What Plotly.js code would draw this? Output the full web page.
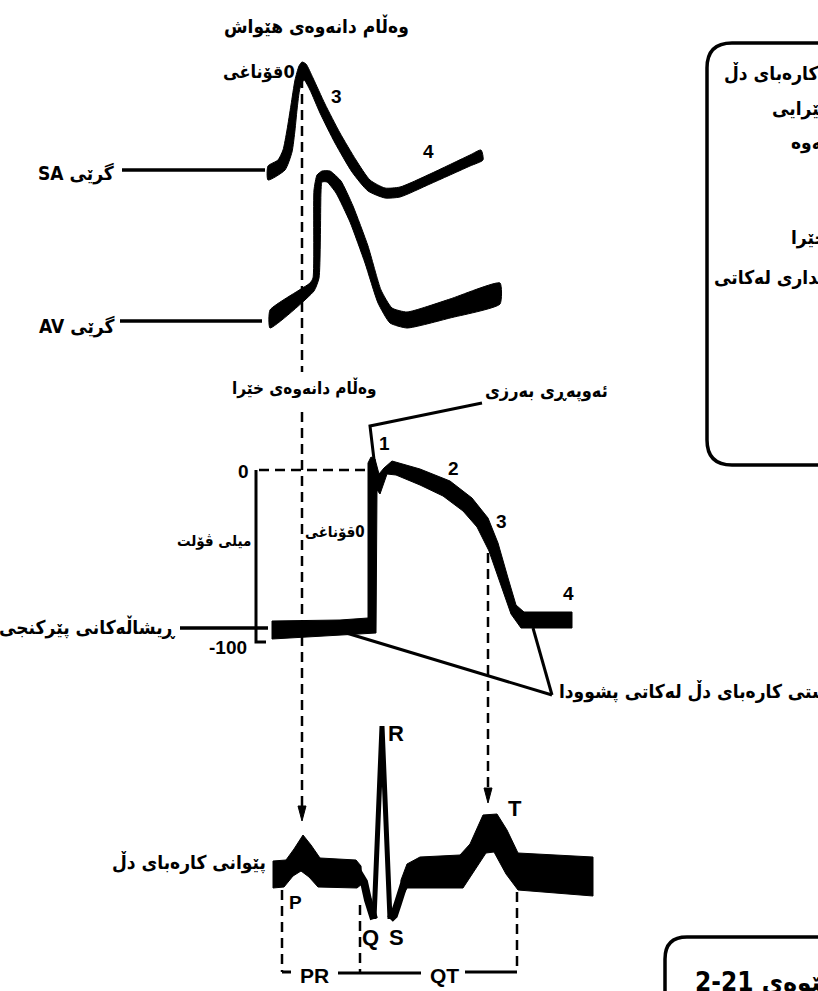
<!DOCTYPE html>
<html>
<head>
<meta charset="utf-8">
<script src="https://cdn.plot.ly/plotly-3.0.1.min.js"></script>
<style>
  html, body { margin: 0; padding: 0; background: #fff; }
  #chart { width: 818px; height: 991px; }
</style>
</head>
<body>
<div id="chart"></div>
<script>
// ── Waveform outlines (page pixels, y downwards) ────────────────────────────
// SA node: slow-response action potential
const saTopX = [268, 278, 283, 287, 291, 295, 299, 302, 306, 313, 325, 340, 356, 370, 385, 400, 430, 470, 481];
const saTopY = [166, 160, 150, 130, 105, 80, 66, 62, 64, 78, 104, 133, 160, 180, 188, 187, 174, 155, 150];
const saBotX = [483, 470, 430, 400, 385, 368, 352, 335, 320, 310, 304, 300, 297, 295, 292, 285, 268];
const saBotY = [160, 166, 184, 197, 198, 191, 172, 143, 113, 90, 80, 88, 110, 130, 152, 170, 180];

// AV node
const avTopX = [270, 310, 313, 314, 317, 322, 330, 341, 353, 368, 381, 392, 407, 450, 500];
const avTopY = [310, 283, 278, 190, 175, 171, 171, 181, 206, 246, 290, 308, 312, 299, 283];
const avBotX = [500, 450, 407, 390, 378, 365, 350, 336, 327, 322, 321, 319, 314, 270];
const avBotY = [304, 318, 328, 323, 303, 263, 222, 193, 182, 182, 192, 278, 291, 328];

// Purkinje fibre: fast-response action potential
const pkTopX = [272, 340, 368, 368, 371, 375, 379, 384, 392, 420, 450, 472, 488, 498, 508, 516, 524, 572];
const pkTopY = [621, 620, 618, 463, 457, 459, 474, 468, 461, 469, 481, 498, 518, 543, 578, 605, 612, 612];
const pkBotX = [572, 521, 511, 500, 489, 477, 463, 443, 420, 396, 387, 380, 377, 376, 340, 272];
const pkBotY = [628, 628, 614, 582, 551, 527, 511, 496, 485, 475, 474, 494, 490, 633, 635, 639];

// ECG: baseline band with P (left) and T (right), QRS as strokes
const ecgLTopX = [273, 286, 294, 303, 311, 320, 356, 361];
const ecgLTopY = [861, 860, 849, 835, 845, 858, 860, 866];
const ecgLBotX = [362, 357, 318, 309, 301, 293, 284, 273];
const ecgLBotY = [884, 888, 887, 877, 871, 876, 887, 888];
const ecgRTopX = [401, 407, 420, 460, 470, 483, 497, 507, 518, 593];
const ecgRTopY = [880, 864, 857, 855, 844, 815, 814, 830, 853, 857];
const ecgRBotX = [593, 518, 506, 494, 486, 475, 463, 407, 399];
const ecgRBotY = [896, 890, 874, 852, 853, 870, 888, 888, 903];
const qX = [358, 364, 368, 371, 374];
const qY = [872, 882, 900, 912, 919];
const rX = [374, 382, 390];
const rY = [919, 726, 919];
const sX = [390, 394, 398, 404];
const sY = [919, 915, 903, 884];

// ── Texts ───────────────────────────────────────────────────────────────────
const T_SLOW  = 'وەڵام دانەوەی هێواش';
const T_FAST  = 'وەڵام دانەوەی خێرا';
const T_PH0   = 'قۆناغی\u200E0';
const T_SA    = 'SA گرێی';
const T_AV    = 'AV گرێی';
const T_PEAK  = 'ئەوپەڕی بەرزی';
const T_MV    = 'میلی ڤۆلت';
const T_PURK  = 'ڕیشاڵەکانی پێرکنجی';
const T_REST  = 'ئاستی کارەبای دڵ لەکاتی پشوودا';
const T_ECG   = 'پێوانی کارەبای دڵ';
const T_FIG   = '2-21 شێوەی';
const BOX_LINES = ['چالاکی کارەبای دڵ', 'بەخێرایی', 'دەبێتەوە', 'خێرا', 'بەشداری لەکاتی'];
const AXIS_TICKS = ['0', '-100'];
const SA_PHASES = ['3', '4'];
const PK_PHASES = ['1', '2', '3', '4'];
const ECG_WAVES = ['P', 'Q', 'S', 'R', 'T'];
const INTERVALS = ['PR', 'QT'];

// ── Helpers ─────────────────────────────────────────────────────────────────
const INK = '#000';
const LAT = 'Liberation Sans Narrow, Liberation Sans, Arial, sans-serif';
const ARB = 'DejaVu Sans Condensed, DejaVu Sans, sans-serif';

function band(tx, ty, bx, by, smooth) {
  return {
    x: tx.concat(bx, [tx[0]]), y: ty.concat(by, [ty[0]]),
    type: 'scatter', mode: 'lines', fill: 'toself', fillcolor: INK,
    line: smooth ? { color: INK, width: 1, shape: 'spline', smoothing: smooth }
                 : { color: INK, width: 1 },
    hoverinfo: 'skip',
  };
}
function stroke(x, y, width, dash) {
  return {
    x, y, type: 'scatter', mode: 'lines', hoverinfo: 'skip',
    line: { color: INK, width, dash: dash || 'solid', shape: 'linear' },
  };
}
function arrowHead(x, y) {
  return band([x - 4, x + 4], [y - 15, y - 15], [x], [y]);
}
function label(text, x, y, size, opts) {
  return Object.assign({
    text, x, y, xref: 'x', yref: 'y', showarrow: false,
    xanchor: 'center', yanchor: 'middle',
    font: { family: LAT, size, color: INK, weight: 'bold' },
  }, opts || {});
}
function arLabel(text, x, y, size, opts) {
  const a = label(text, x, y, size, opts);
  a.font.family = ARB;
  return a;
}

const DASH = '10px,6px';

const traces = [
  band(saTopX, saTopY, saBotX, saBotY, 0.6),
  band(avTopX, avTopY, avBotX, avBotY, 0.5),
  band(pkTopX, pkTopY, pkBotX, pkBotY),
  band(ecgLTopX, ecgLTopY, ecgLBotX, ecgLBotY),
  band(ecgRTopX, ecgRTopY, ecgRBotX, ecgRBotY),
  stroke(qX, qY, 8),
  stroke(rX, rY, 5),
  stroke(sX, sY, 8),

  // leader lines
  stroke([122, 265], [170, 170], 3.5),
  stroke([120, 262], [321, 321], 3.5),
  stroke([180, 268], [628, 628], 3.5),
  stroke([482, 370, 375], [403, 426, 468], 3),
  stroke([343, 552], [632, 695], 3),
  stroke([533, 552], [628, 695], 3),

  // millivolt axis
  stroke([256, 256, 266], [470, 642, 642], 3),

  // dashed guides
  stroke([302, 302], [78, 372], 2.5, DASH),
  stroke([302, 302], [412, 806], 2.5, DASH),
  stroke([259, 368], [470, 470], 2.5, DASH),
  stroke([488, 488], [553, 788], 2.5, DASH),
  stroke([282, 282], [890, 972], 2.5, DASH),
  stroke([360, 360], [905, 972], 2.5, DASH),
  stroke([517, 517], [892, 970], 2.5, DASH),
  arrowHead(302, 821),
  arrowHead(488, 803),

  // PR / QT brackets
  stroke([282, 291], [972, 972], 3),
  stroke([338, 421], [973, 973], 3),
  stroke([465, 517], [972, 972], 3),
];

const annotations = [
  arLabel(T_SLOW, 316, 26, 19),
  arLabel(T_PH0, 297, 72, 18, { xanchor: 'right' }),
  label(SA_PHASES[0], 336, 96, 19),
  label(SA_PHASES[1], 428, 151, 19),
  arLabel(T_SA, 116, 173, 19, { xanchor: 'right' }),
  arLabel(T_AV, 116, 326, 19, { xanchor: 'right' }),
  arLabel(T_FAST, 304, 388, 17),
  arLabel(T_PEAK, 483, 391, 18, { xanchor: 'left' }),
  label(PK_PHASES[0], 384, 443, 19),
  label(PK_PHASES[1], 453, 468, 19),
  label(PK_PHASES[2], 501, 521, 19),
  label(PK_PHASES[3], 568, 593, 19),
  label(AXIS_TICKS[0], 243, 471, 19),
  label(AXIS_TICKS[1], 228, 647, 19),
  arLabel(T_MV, 253, 541, 15, { xanchor: 'right' }),
  arLabel(T_PH0, 303, 532, 15, { xanchor: 'left' }),
  arLabel(T_PURK, 178, 627, 19, { xanchor: 'right' }),
  arLabel(T_REST, 557, 691, 19, { xanchor: 'left' }),
  arLabel(T_ECG, 268, 862, 19, { xanchor: 'right' }),
  label(ECG_WAVES[0], 295, 902, 19),
  label(ECG_WAVES[1], 370, 937, 22),
  label(ECG_WAVES[2], 396, 937, 22),
  label(ECG_WAVES[3], 396, 733, 22),
  label(ECG_WAVES[4], 515, 808, 22),
  label(INTERVALS[0], 314, 975, 21),
  label(INTERVALS[1], 444, 975, 21),
  arLabel(BOX_LINES[0], 722, 73, 19, { xanchor: 'left' }),
  arLabel(BOX_LINES[1], 770, 108, 19, { xanchor: 'left' }),
  arLabel(BOX_LINES[2], 789, 142, 19, { xanchor: 'left' }),
  arLabel(BOX_LINES[3], 789, 237, 19, { xanchor: 'left' }),
  arLabel(BOX_LINES[4], 712, 277, 19, { xanchor: 'left' }),
  arLabel(T_FIG, 693, 982, 26, { xanchor: 'left' }),
];

const shapes = [
  { type: 'path', xref: 'x', yref: 'y', line: { color: INK, width: 3.5 },
    path: 'M 830,43 L 732,43 Q 707,43 707,68 L 707,440 Q 707,465 732,465 L 830,465' },
  { type: 'path', xref: 'x', yref: 'y', line: { color: INK, width: 3.5 },
    path: 'M 830,937 L 687,937 Q 665,937 665,959 L 665,1000' },
];

Plotly.newPlot('chart', traces, {
  width: 818, height: 991,
  margin: { t: 0, b: 0, l: 0, r: 0 },
  paper_bgcolor: '#fff', plot_bgcolor: '#fff',
  showlegend: false,
  xaxis: { range: [0, 818], visible: false, fixedrange: true },
  yaxis: { range: [991, 0], visible: false, fixedrange: true },
  annotations, shapes,
}, { staticPlot: true, displayModeBar: false });
</script>
</body>
</html>
